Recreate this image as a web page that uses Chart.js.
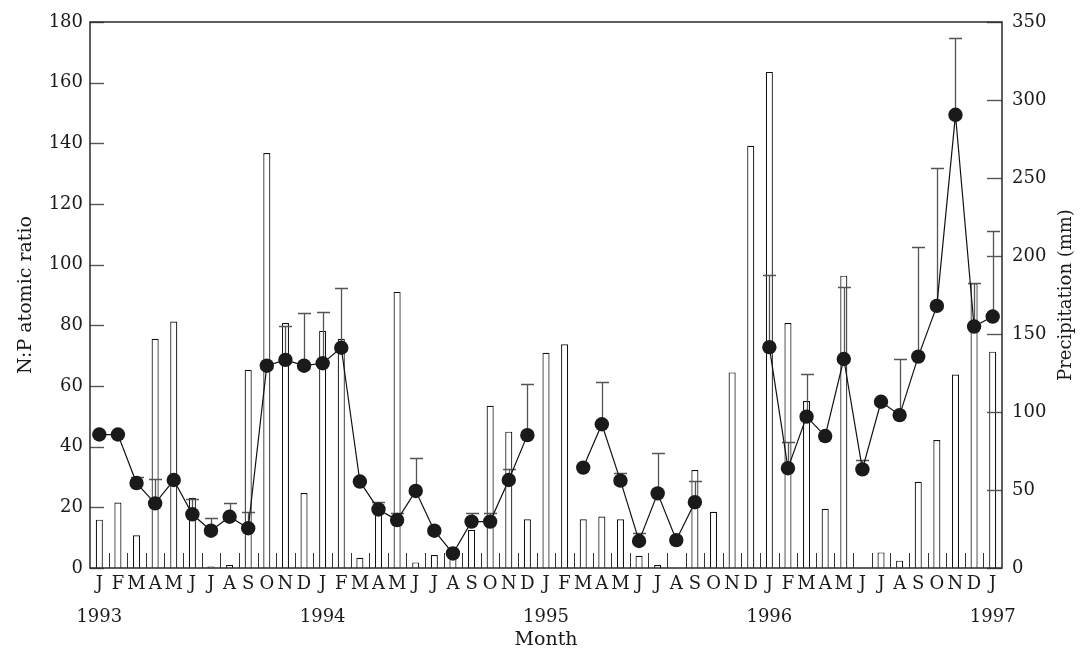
<!DOCTYPE html>
<html>
<head>
<meta charset="utf-8">
<script src="https://cdn.jsdelivr.net/npm/chart.js@4.4.1/dist/chart.umd.min.js"></script>
<style>
  html, body { margin: 0; padding: 0; background: #ffffff; }
  #wrap { width: 1081px; height: 655px; }
</style>
</head>
<body>
<div id="wrap"><canvas id="chart" width="1081" height="655"></canvas></div>
<script>
// Month initials and the years that start each January
const monthLetters = ['J', 'F', 'M', 'A', 'M', 'J', 'J', 'A', 'S', 'O', 'N', 'D'];
const yearLabels = ['1993', '1994', '1995', '1996', '1997'];

// Monthly N:P atomic ratio (null = no sample)
const npRatio = [
  44, 44, 28, 21.3, 29, 17.7, 12.3, 16.9, 13.1, 66.7, 68.6, 66.7,
  67.5, 72.6, 28.5, 19.3, 15.8, 25.4, 12.3, 4.8, 15.3, 15.3, 29, 43.8,
  null, null, 33.1, 47.4, 28.8, 8.9, 24.6, 9.2, 21.7, null, null, null,
  72.8, 32.9, 49.9, 43.5, 68.9, 32.5, 54.8, 50.4, 69.7, 86.4, 149.4, 79.6,
  82.9
];

// Upper end of the error bar for each ratio (null = none drawn)
const npUpper = [
  null, null, 30, 29.2, null, 22.6, 16.5, 21.3, 18.6, null, 79.9, 84,
  84.5, 92.4, null, 21.9, 18.2, 36.2, null, null, 18, 18, 32.6, 60.7,
  null, null, null, 61.2, 31.2, 11.6, 37.8, null, 28.7, null, null, null,
  96.6, 41.6, 64, null, 92.5, 35.6, null, 68.9, 105.7, 132, 174.6, 93.9,
  111.2
];

// Monthly precipitation (mm)
const precipitation = [
  31, 42, 21, 147, 158, 45, 1, 2, 127, 266, 157, 48,
  152, 147, 6.5, 42, 177, 3.6, 8.3, 8, 24.4, 104, 87.4, 31.2,
  138, 143.4, 31.2, 33, 31.2, 7.9, 1.9, 0, 62.8, 36.1, 125.4, 270.7,
  318, 157, 107, 38, 187.4, 0, 10, 4.7, 55.3, 82, 124, 182.5,
  138.7
];

// Category labels: month initial, with the year underneath each January
const categories = npRatio.map((_, i) => {
  const m = i % 12;
  const letter = monthLetters[m];
  return m === 0 ? [letter, yearLabels[Math.floor(i / 12)]] : letter;
});

const FONT = 'DejaVu Serif';
const INK = '#1a1a1a';

// Frame, inward tick marks, error bars and the right-hand axis title
const decorations = {
  id: 'decorations',
  beforeDatasetDraw(chart, args) {
    if (args.index !== 1) return;
    const ctx = chart.ctx;
    const xs = chart.scales.x, ys = chart.scales.y;
    ctx.save();
    ctx.strokeStyle = '#555555';
    ctx.lineWidth = 1.3;
    npUpper.forEach((u, i) => {
      if (u == null || npRatio[i] == null) return;
      const px = Math.round(xs.getPixelForValue(i)) + 0.5;
      const p0 = ys.getPixelForValue(npRatio[i]);
      const p1 = Math.round(ys.getPixelForValue(u)) + 0.5;
      ctx.beginPath();
      ctx.moveTo(px, p0);
      ctx.lineTo(px, p1);
      ctx.moveTo(px - 6.5, p1);
      ctx.lineTo(px + 6.5, p1);
      ctx.stroke();
    });
    ctx.restore();
  },
  afterDraw(chart) {
    const ctx = chart.ctx;
    const a = chart.chartArea;
    const xs = chart.scales.x, ys = chart.scales.y, y2 = chart.scales.y2;
    ctx.save();

    // tick marks on the left axis, pointing inward
    ctx.strokeStyle = '#555555';
    ctx.lineWidth = 1.4;
    ys.ticks.forEach(t => {
      const py = Math.round(ys.getPixelForValue(t.value)) + 0.5;
      ctx.beginPath(); ctx.moveTo(a.left, py); ctx.lineTo(a.left + 14, py); ctx.stroke();
    });
    // tick marks on the right axis, pointing inward
    y2.ticks.forEach(t => {
      const py = Math.round(y2.getPixelForValue(t.value)) + 0.5;
      ctx.beginPath(); ctx.moveTo(a.right - 15, py); ctx.lineTo(a.right, py); ctx.stroke();
    });
    // short marks between months along the bottom
    ctx.strokeStyle = '#333333';
    ctx.lineWidth = 1;
    for (let i = 1; i < categories.length; i++) {
      const bx = Math.round((xs.getPixelForValue(i - 1) + xs.getPixelForValue(i)) / 2) + 0.5;
      ctx.beginPath(); ctx.moveTo(bx, a.bottom - 15); ctx.lineTo(bx, a.bottom); ctx.stroke();
    }

    // plot frame
    ctx.strokeStyle = '#2a2a2a';
    ctx.lineWidth = 1.5;
    ctx.strokeRect(a.left, a.top, a.right - a.left, a.bottom - a.top);

    // right axis title, reading bottom to top
    ctx.fillStyle = INK;
    ctx.font = '18px "' + FONT + '"';
    ctx.textAlign = 'center';
    ctx.textBaseline = 'middle';
    ctx.translate(1066, (a.top + a.bottom) / 2);
    ctx.rotate(-Math.PI / 2);
    ctx.fillText('Precipitation (mm)', 0, 0);
    ctx.restore();
  }
};

new Chart(document.getElementById('chart'), {
  type: 'bar',
  data: {
    labels: categories,
    datasets: [
      {
        type: 'bar',
        label: 'Precipitation',
        data: precipitation,
        yAxisID: 'y2',
        backgroundColor: '#ffffff',
        borderColor: '#111111',
        borderWidth: 1.2,
        categoryPercentage: 1,
        barPercentage: 0.38,
        order: 2
      },
      {
        type: 'line',
        label: 'N:P atomic ratio',
        data: npRatio,
        yAxisID: 'y',
        borderColor: '#111111',
        borderWidth: 1.2,
        pointRadius: 7.2,
        pointBackgroundColor: '#1a1a1a',
        pointBorderWidth: 0,
        spanGaps: false,
        tension: 0,
        order: 1
      }
    ]
  },
  options: {
    responsive: false,
    animation: false,
    devicePixelRatio: 1,
    layout: { padding: { top: 22, left: 0, right: 0, bottom: 0 } },
    plugins: {
      legend: { display: false },
      tooltip: { enabled: false }
    },
    scales: {
      x: {
        offset: true,
        grid: { display: false, drawTicks: false },
        border: { display: false },
        ticks: {
          autoSkip: false,
          maxRotation: 0,
          padding: 0,
          color: INK,
          font: { family: FONT, size: 18, lineHeight: 1.833 }
        },
        title: {
          display: true,
          text: 'Month',
          color: INK,
          font: { family: FONT, size: 19 },
          padding: { top: 0, bottom: 3.6 }
        },
        afterFit: s => { s.height = 87; }
      },
      y: {
        position: 'left',
        min: 0,
        max: 180,
        grid: { display: false, drawTicks: false },
        border: { display: false },
        ticks: {
          stepSize: 20,
          padding: 7,
          color: INK,
          font: { family: FONT, size: 18 }
        },
        title: {
          display: true,
          text: 'N:P atomic ratio',
          color: INK,
          font: { family: FONT, size: 19 },
          padding: { top: 14.6, bottom: 0 }
        },
        afterFit: s => { s.width = 90; }
      },
      y2: {
        position: 'right',
        min: 0,
        max: 350,
        grid: { display: false, drawTicks: false },
        border: { display: false },
        ticks: {
          stepSize: 50,
          padding: 10,
          color: INK,
          font: { family: FONT, size: 18 }
        },
        afterFit: s => { s.width = 79; }
      }
    }
  },
  plugins: [decorations]
});
</script>
</body>
</html>
